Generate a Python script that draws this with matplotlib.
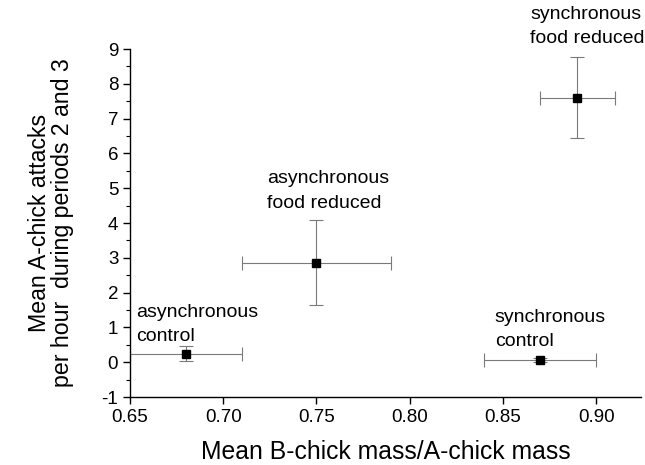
import matplotlib
matplotlib.use("Agg")
import matplotlib.pyplot as plt
from matplotlib.ticker import MultipleLocator

# data
groups = ["asynchronous\ncontrol", "asynchronous\nfood reduced",
          "synchronous\ncontrol", "synchronous\nfood reduced"]
mass_ratio = [0.68, 0.75, 0.87, 0.89]
mass_err = [0.03, 0.04, 0.03, 0.02]
attacks = [0.25, 2.86, 0.07, 7.60]
attacks_err = [0.21, 1.22, 0.06, 1.16]

# where the group labels sit (data coords, left / vertical centre)
label_pos = [(0.6532, 1.08), (0.7235, 4.92), (0.8456, 0.94), (0.8646, 9.65)]

plt.rcParams['font.family'] = ['Liberation Sans', 'DejaVu Sans']
plt.rcParams['axes.unicode_minus'] = False

fig = plt.figure(figsize=(6.45, 4.65), dpi=100)
ax = fig.add_axes([0.2016, 0.1462, 0.792, 0.7484])

ax.errorbar(mass_ratio, attacks, xerr=mass_err, yerr=attacks_err,
            fmt="none", ecolor="#7a7a7a", elinewidth=0.8, capsize=5, capthick=0.8)
ax.plot(mass_ratio, attacks, "s", color="black", markersize=6)

for lab, (lx, ly) in zip(groups, label_pos):
    ax.text(lx, ly, lab, ha="left", va="center", fontsize=14,
            linespacing=1.55, clip_on=False)

ax.set_xlim(0.65, 0.924)
ax.set_ylim(-1, 9)
ax.set_xticks([0.65, 0.70, 0.75, 0.80, 0.85, 0.90])
ax.set_xticklabels(["0.65", "0.70", "0.75", "0.80", "0.85", "0.90"])
ax.set_yticks(range(-1, 10))
ax.yaxis.set_minor_locator(MultipleLocator(0.5))

ax.spines["top"].set_visible(False)
ax.spines["right"].set_visible(False)
ax.spines["left"].set_linewidth(1.0)
ax.spines["bottom"].set_linewidth(1.0)
ax.tick_params(axis="both", which="major", labelsize=13.5, length=5, width=1.0, direction="out")
ax.tick_params(axis="y", which="minor", length=3, width=0.8)

ax.set_xlabel("Mean B-chick mass/A-chick mass", fontsize=17.8, labelpad=10)
ax.set_ylabel("Mean A-chick attacks\nper hour  during periods 2 and 3", fontsize=16.7,
              labelpad=20, linespacing=1.0)

fig.savefig("out.png", dpi=100)
